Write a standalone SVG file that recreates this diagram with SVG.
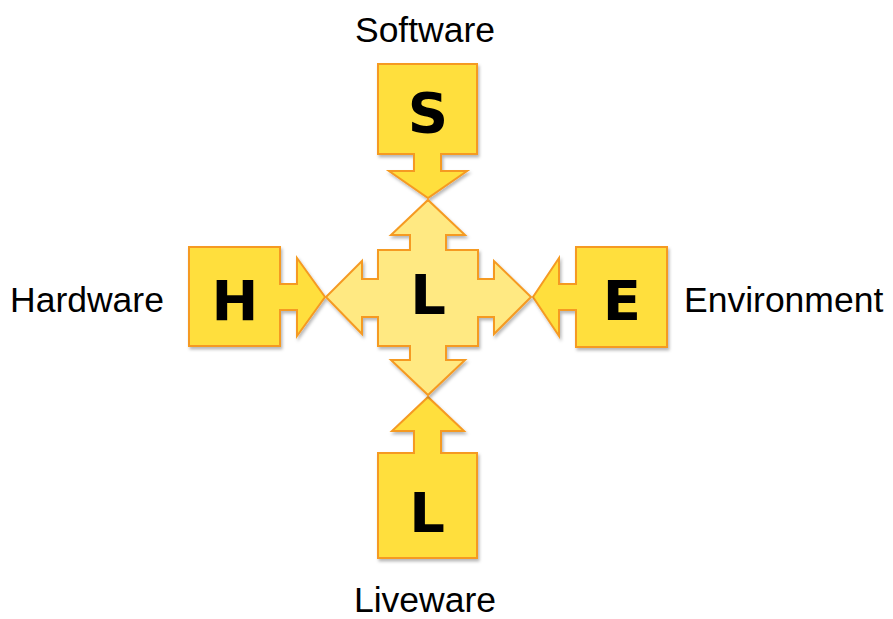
<svg xmlns="http://www.w3.org/2000/svg" width="893" height="619" viewBox="0 0 893 619">
  <defs>
    <filter id="sh" x="-10%" y="-10%" width="125%" height="125%">
      <feDropShadow dx="1.5" dy="2.5" stdDeviation="1.8" flood-color="#000" flood-opacity="0.28"/>
    </filter>
  </defs>
  <style>
    .outer { fill: #FFDF3C; stroke: #F59A23; stroke-width: 2; stroke-linejoin: miter; filter: url(#sh); }
    .center { fill: #FFE982; stroke: #F59A23; stroke-width: 2; stroke-linejoin: miter; filter: url(#sh); }
    .big { font-family: "DejaVu Sans", Verdana, sans-serif; font-weight: bold; font-size: 56px; fill: #000; text-anchor: middle; }
    .lbl { font-family: "Liberation Sans", Arial, sans-serif; font-size: 35.5px; fill: #000; }
  </style>
  <rect width="893" height="619" fill="#fff"/>
  <g id="connectors"/>
  <g id="node-software">
    <path class="outer" d="M378,64 H477 V154 H441 V171 H467 L428,198 L389,171 H414 V154 H378 Z"/>
    <text class="big" x="428" y="132">S</text>
    <text class="lbl" x="425" y="42" text-anchor="middle">Software</text>
  </g>
  <g id="node-hardware">
    <path class="outer" d="M189,247 H280 V284 H297 V258 L325,297 L297,336 V310 H280 V346 H189 Z"/>
    <text class="big" x="235" y="320">H</text>
    <text class="lbl" x="10" y="312">Hardware</text>
  </g>
  <g id="node-environment">
    <path class="outer" d="M667,247 H576 V284 H559 V258 L533,297 L559,336 V310 H576 V347 H667 Z"/>
    <text class="big" x="622" y="320">E</text>
    <text class="lbl" x="684" y="312">Environment</text>
  </g>
  <g id="node-liveware">
    <path class="outer" d="M378,558 H477 V453 H441 V431 H464 L428,397 L392,431 H414 V453 H378 Z"/>
    <text class="big" x="427" y="532">L</text>
    <text class="lbl" x="425" y="612" text-anchor="middle">Liveware</text>
  </g>
  <g id="node-center">
    <path class="center" d="M378,250 H410 V235 H391 L428,200 L465,235 H446 V250 H478 V279 H494 V261 L531,297 L494,334 V317 H478 V346 H446 V360 H465 L428,395 L391,360 H410 V346 H378 V317 H362 V334 L326,297 L362,261 V279 H378 Z"/>
    <text class="big" x="428" y="314">L</text>
  </g>
</svg>
